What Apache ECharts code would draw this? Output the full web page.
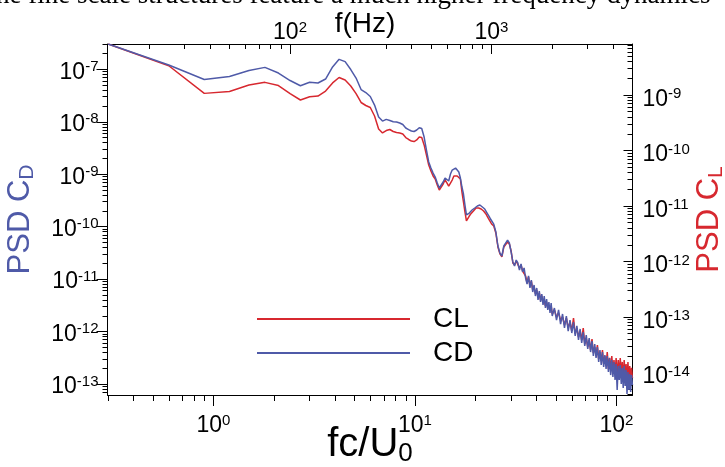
<!DOCTYPE html>
<html><head><meta charset="utf-8">
<script src="https://cdn.jsdelivr.net/npm/echarts@6/dist/echarts.min.js"></script>
<style>html,body{margin:0;padding:0;background:#fff}#c{width:725px;height:467px}</style>
</head><body><div id="c"></div>
<script>
// ---- data ----
const freqA = [0.3,0.6,0.9,1.2,1.5,1.8,2.1,2.4,2.7,3.0,3.3,3.6,3.9,4.2,4.5,4.8,5.1,5.4,5.7,6.0,6.3,6.6,6.9,7.2,7.5,7.8,8.1,8.4,8.7,9.0,9.3,9.6,9.9,10.2,10.5,10.8,11.1,11.4,11.7,12.0];
const freqB = [12.3,12.6,12.9,13.2,13.5,13.8,14.1,14.4,14.7,15.0,15.3,15.6,15.9,16.2,16.5,16.8,17.1,17.4,17.7,18.0,18.3,18.6,18.9,19.2,19.5,19.8,20.1,20.4,20.7,21.0,21.3,21.6,21.9,22.2,22.5,22.8,23.1,23.4,23.7,24.0];
const freqC = [24.6,25.2,25.8,26.4,27.0,27.6,28.2,28.8,29.4,30.0,30.6,31.2,31.8,32.4,33.0,33.6,34.2,34.8,35.4,36.0,36.6,37.2,37.8,38.4,39.0,39.6,40.2,40.8,41.4,42.0,42.6,43.2,43.8,44.4,45.0,45.6,46.2,46.8,47.4,48.0];
const freqD = [49.2,50.4,51.6,52.8,54.0,55.2,56.4,57.6,58.8,60.0,61.2,62.4,63.6,64.8,66.0,67.2,68.4,69.6,70.8,72.0,73.2,74.4,75.6,76.8,78.0,79.2,80.4,81.6,82.8,84.0,85.2,86.4,87.6,88.8,90.0,91.2,92.4,93.6,94.8,96.0,97.2,98.4,99.6,100.8,102.0,103.2,104.4,105.6,106.8,108.0,109.2,110.4,111.6,112.8,114.0,115.2,116.4,117.6,118.8,120.0];

const cdA = [3.03e-7,1.21e-7,6.40e-8,7.29e-8,9.49e-8,1.09e-7,8.49e-8,6.12e-8,4.87e-8,5.65e-8,5.48e-8,6.53e-8,1.11e-7,1.55e-7,1.40e-7,9.91e-8,6.82e-8,4.12e-8,3.61e-8,3.03e-8,2.08e-8,1.23e-8,1.03e-8,1.11e-8,1.06e-8,1.00e-8,9.89e-9,9.46e-9,8.87e-9,7.60e-9,7.11e-9,6.67e-9,6.52e-9,6.97e-9,7.71e-9,7.43e-9,5.12e-9,2.89e-9,1.71e-9,1.31e-9];
const cdB = [1.05e-9,8.84e-10,6.80e-10,5.46e-10,5.22e-10,7.10e-10,8.46e-10,7.75e-10,7.42e-10,1.01e-9,1.20e-9,1.31e-9,1.31e-9,1.20e-9,1.10e-9,8.46e-10,5.70e-10,4.19e-10,2.59e-10,1.67e-10,1.60e-10,1.82e-10,1.90e-10,2.08e-10,2.17e-10,2.27e-10,2.37e-10,2.48e-10,2.37e-10,2.59e-10,2.48e-10,2.37e-10,2.27e-10,2.17e-10,1.99e-10,1.82e-10,1.67e-10,1.53e-10,1.40e-10,1.34e-10];
const cdC = [1.12e-10,7.91e-11,4.28e-11,3.14e-11,2.76e-11,4.28e-11,4.67e-11,5.56e-11,4.88e-11,3.29e-11,2.12e-11,1.78e-11,2.31e-11,2.03e-11,1.49e-11,1.94e-11,1.37e-11,1.63e-11,1.05e-11,8.06e-12,1.15e-11,6.77e-12,9.61e-12,5.68e-12,7.72e-12,4.76e-12,6.77e-12,4.00e-12,5.93e-12,3.66e-12,5.20e-12,3.21e-12,4.76e-12,2.81e-12,4.17e-12,2.58e-12,3.66e-12,2.26e-12,3.50e-12,1.98e-12];
const cdD = [2.81e-12,1.66e-12,2.58e-12,1.39e-12,2.16e-12,1.17e-12,1.98e-12,1.02e-12,1.66e-12,9.38e-13,1.52e-12,8.23e-13,1.28e-12,6.90e-13,1.12e-12,6.05e-13,9.80e-13,5.30e-13,8.59e-13,4.65e-13,7.53e-13,4.07e-13,6.60e-13,3.42e-13,5.79e-13,3.13e-13,5.07e-13,2.63e-13,4.45e-13,2.30e-13,4.07e-13,2.11e-13,3.57e-13,1.93e-13,3.42e-13,1.69e-13,3.13e-13,1.48e-13,2.87e-13,1.36e-13,2.63e-13,1.19e-13,2.41e-13,7.68e-14,2.20e-13,1.19e-13,2.30e-13,1.00e-13,2.02e-13,8.39e-14,2.20e-13,9.16e-14,1.85e-13,6.45e-14,1.69e-13,7.68e-14,1.55e-13,7.04e-14,1.48e-13,9.57e-14];

const clA = [8.30e-9,3.37e-9,1.07e-9,1.16e-9,1.51e-9,1.69e-9,1.48e-9,1.06e-9,8.13e-10,9.32e-10,9.59e-10,1.18e-9,1.65e-9,2.07e-9,1.86e-9,1.45e-9,1.06e-9,7.33e-10,6.47e-10,5.95e-10,4.18e-10,2.44e-10,2.07e-10,2.29e-10,2.39e-10,2.20e-10,2.11e-10,2.07e-10,1.98e-10,1.71e-10,1.58e-10,1.48e-10,1.45e-10,1.55e-10,1.75e-10,1.71e-10,1.26e-10,8.30e-11,5.48e-11,4.27e-11];
const clB = [3.47e-11,3.07e-11,2.39e-11,1.94e-11,1.86e-11,2.49e-11,2.94e-11,2.60e-11,2.29e-11,2.39e-11,2.94e-11,3.47e-11,3.62e-11,3.47e-11,3.33e-11,3.07e-11,1.79e-11,1.18e-11,7.80e-12,5.37e-12,5.59e-12,6.60e-12,7.18e-12,7.80e-12,8.13e-12,8.83e-12,9.20e-12,9.59e-12,9.20e-12,9.20e-12,8.83e-12,8.83e-12,8.13e-12,7.80e-12,7.18e-12,6.60e-12,6.34e-12,5.59e-12,5.15e-12,4.74e-12];
const clC = [4.36e-12,3.26e-12,1.83e-12,1.37e-12,1.21e-12,1.83e-12,1.98e-12,2.25e-12,2.07e-12,1.55e-12,9.40e-13,8.65e-13,1.02e-12,9.79e-13,7.64e-13,8.65e-13,6.74e-13,7.03e-13,5.48e-13,4.10e-13,5.26e-13,3.62e-13,4.45e-13,3.07e-13,3.47e-13,2.60e-13,3.07e-13,2.20e-13,2.71e-13,2.02e-13,2.39e-13,1.79e-13,2.02e-13,1.58e-13,1.86e-13,1.45e-13,1.64e-13,1.34e-13,1.58e-13,1.13e-13];
const clD = [1.34e-13,1.00e-13,1.18e-13,8.83e-14,1.00e-13,7.18e-14,9.59e-14,6.34e-14,8.13e-14,5.59e-14,9.59e-14,4.94e-14,6.34e-14,4.36e-14,5.59e-14,3.85e-14,6.34e-14,3.26e-14,4.18e-14,2.88e-14,3.85e-14,2.54e-14,4.01e-14,2.25e-14,2.88e-14,1.98e-14,3.13e-14,1.75e-14,2.34e-14,1.61e-14,2.54e-14,1.42e-14,1.98e-14,1.31e-14,2.34e-14,1.16e-14,1.83e-14,1.11e-14,1.98e-14,1.02e-14,1.68e-14,9.40e-15,1.83e-14,7.96e-15,1.68e-14,9.01e-15,1.83e-14,8.65e-15,1.55e-14,7.33e-15,1.68e-14,7.96e-15,1.42e-14,6.74e-15,1.55e-14,7.33e-15,1.31e-14,6.47e-15,1.21e-14,7.96e-15];

// tick values
const bottomMajor = [1, 10, 100];
const topMajor = [100, 1000];
const leftMajor = [1e-13, 1e-12, 1e-11, 1e-10, 1e-9, 1e-8, 1e-7];
const rightMajor = [1e-14, 1e-13, 1e-12, 1e-11, 1e-10, 1e-9];
const minorMultipliers = [2, 3, 4, 5, 6, 7, 8, 9];
const legendNames = ['CL', 'CD'];

// ---- chart ----
const X_MIN = 0.2978, X_MAX = 120.1;
const F_MIN = 12.42, F_MAX = 5011;
const YL_MIN = 6.17e-14, YL_MAX = 3.04e-7;
const YR_MIN = 3.93e-15, YR_MAX = 8.30e-9;
const RED = '#d7282f', BLUE = '#4f5aa8';
const FONT = '"Liberation Sans", Arial, Helvetica, sans-serif';

function minorTicks(lo, hi) {
  const out = [];
  for (let e = Math.floor(Math.log10(lo)) - 1; e <= Math.ceil(Math.log10(hi)); e++) {
    minorMultipliers.forEach(m => {
      const v = m * Math.pow(10, e);
      if (v > lo && v < hi) out.push(v);
    });
  }
  return out;
}
const freq = freqA.concat(freqB, freqC, freqD);
const cd = cdA.concat(cdB, cdC, cdD);
const cl = clA.concat(clB, clC, clD);
const cdData = freq.map((f, i) => [f, cd[i]]);
const clData = freq.map((f, i) => [f, cl[i]]);

const tickRich = {
  b: { fontSize: 23, fontFamily: FONT, color: '#000', lineHeight: 26, verticalAlign: 'middle' },
  s: { fontSize: 15, fontFamily: FONT, color: '#000', lineHeight: 2, verticalAlign: 'top' }
};
function powLabel(v) {
  const e = Math.round(Math.log10(v));
  return '{b|10}{s|' + (e < 0 ? '-' + (-e) : e) + '}';
}
const black = { color: '#000', width: 1 };

function logAxis(base) { return Object.assign({ type: 'log', logBase: 10, nameMoveOverlap: false, splitLine: { show: false }, minorTick: { show: false }, minorSplitLine: { show: false } }, base); }

const option = {
  animation: false,
  textStyle: { fontFamily: FONT },
  grid: { left: 107.5, right: 92.5, top: 44, bottom: 72, containLabel: false, outerBoundsMode: 'none' },
  legend: {
    data: legendNames, orient: 'vertical', left: 252, top: 299,
    icon: 'rect', itemWidth: 153, itemHeight: 2, itemGap: 4,
    textStyle: { fontSize: 28, fontFamily: FONT, color: '#000', lineHeight: 30, padding: [0, 0, 0, 18] }
  },
  graphic: [{
    type: 'text', left: -4, top: -18, silent: true,
    style: { text: 'he fine scale structures feature a much higher frequency dynamics', font: '27px "Liberation Serif", serif', fill: '#000' }
  }],
  xAxis: [
    logAxis({ gridIndex: 0, position: 'bottom', min: X_MIN, max: X_MAX,
      axisLine: { show: true, onZero: false, lineStyle: black },
      axisTick: { show: true, inside: false, length: 11, customValues: bottomMajor, lineStyle: black },
      axisLabel: { show: true, customValues: bottomMajor, formatter: powLabel, rich: tickRich, margin: 18 },
      name: '{t|fc/U}{sub|0}', nameLocation: 'middle', nameGap: 28,
      nameTextStyle: { verticalAlign: 'top', rich: { t: { fontSize: 40, fontFamily: FONT, color: '#000', lineHeight: 44 }, sub: { fontSize: 26, fontFamily: FONT, color: '#000', lineHeight: 12, verticalAlign: 'bottom' } } } }),
    logAxis({ gridIndex: 0, position: 'bottom', min: X_MIN, max: X_MAX,
      axisLine: { show: false }, axisLabel: { show: false },
      axisTick: { show: true, inside: false, length: 6, customValues: minorTicks(X_MIN, X_MAX), lineStyle: black } }),
    logAxis({ gridIndex: 0, position: 'top', min: F_MIN, max: F_MAX,
      axisLine: { show: true, onZero: false, lineStyle: black },
      axisTick: { show: true, inside: true, length: 10, customValues: topMajor, lineStyle: black },
      axisLabel: { show: true, customValues: topMajor, formatter: powLabel, rich: tickRich, margin: -2 },
      name: 'f(Hz)', nameLocation: 'middle', nameGap: 6,
      nameTextStyle: { fontSize: 28, fontFamily: FONT, color: '#000', verticalAlign: 'bottom', padding: [0, 10, 0, 0] } }),
    logAxis({ gridIndex: 0, position: 'top', min: F_MIN, max: F_MAX,
      axisLine: { show: false }, axisLabel: { show: false },
      axisTick: { show: true, inside: true, length: 5, customValues: minorTicks(F_MIN, F_MAX), lineStyle: black } })
  ],
  yAxis: [
    logAxis({ gridIndex: 0, position: 'left', min: YL_MIN, max: YL_MAX,
      axisLine: { show: true, onZero: false, lineStyle: black },
      axisTick: { show: true, inside: false, length: 11, customValues: leftMajor, lineStyle: black },
      axisLabel: { show: true, customValues: leftMajor, formatter: powLabel, rich: tickRich, margin: 9, padding: [6, 0, 0, 0] },
      name: '{t|PSD C}{sub|D}', nameLocation: 'middle', nameRotate: 90, nameGap: 70,
      nameTextStyle: { rich: { t: { fontSize: 31, fontFamily: FONT, color: BLUE, lineHeight: 34 }, sub: { fontSize: 21, fontFamily: FONT, color: BLUE, lineHeight: 8, verticalAlign: 'bottom' } } } }),
    logAxis({ gridIndex: 0, position: 'left', min: YL_MIN, max: YL_MAX,
      axisLine: { show: false }, axisLabel: { show: false },
      axisTick: { show: true, inside: false, length: 5, customValues: minorTicks(YL_MIN, YL_MAX), lineStyle: black } }),
    logAxis({ gridIndex: 0, position: 'right', min: YR_MIN, max: YR_MAX,
      axisLine: { show: true, onZero: false, lineStyle: black },
      axisTick: { show: true, inside: true, length: 9, customValues: rightMajor, lineStyle: black },
      axisLabel: { show: true, customValues: rightMajor, formatter: powLabel, rich: tickRich, margin: 10, padding: [9, 0, 0, 0] },
      name: '{t|PSD C}{sub|L}', nameLocation: 'middle', nameRotate: 90, nameGap: 60,
      nameTextStyle: { rich: { t: { fontSize: 31, fontFamily: FONT, color: RED, lineHeight: 34 }, sub: { fontSize: 21, fontFamily: FONT, color: RED, lineHeight: 8, verticalAlign: 'bottom' } } } }),
    logAxis({ gridIndex: 0, position: 'right', min: YR_MIN, max: YR_MAX,
      axisLine: { show: false }, axisLabel: { show: false },
      axisTick: { show: true, inside: true, length: 5, customValues: minorTicks(YR_MIN, YR_MAX), lineStyle: black } })
  ],
  series: [
    { name: 'CL', type: 'line', xAxisIndex: 0, yAxisIndex: 2, data: clData, symbol: 'none', showSymbol: false, clip: true,
      lineStyle: { color: RED, width: 1.5 }, itemStyle: { color: RED } },
    { name: 'CD', type: 'line', xAxisIndex: 0, yAxisIndex: 0, data: cdData, symbol: 'none', showSymbol: false, clip: true,
      lineStyle: { color: BLUE, width: 1.5 }, itemStyle: { color: BLUE } }
  ]
};
const chart = echarts.init(document.getElementById('c'), null, { renderer: 'canvas' });
chart.setOption(option);
</script>
</body></html>
